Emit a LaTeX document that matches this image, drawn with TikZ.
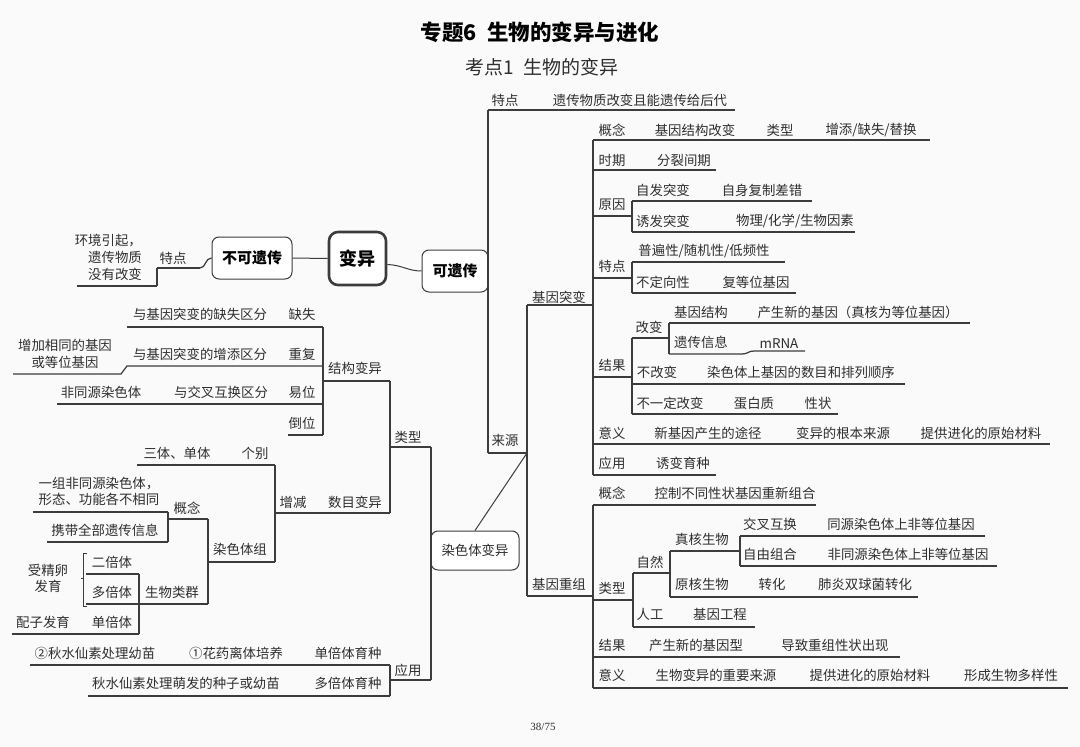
\documentclass[tikz,border=0pt]{standalone}
\usepackage{fontspec}
\setmainfont{Noto Sans CJK SC}
\newfontfamily\pnfont{Liberation Serif}
\definecolor{bgc}{HTML}{FAFAFA}
\definecolor{lc}{HTML}{3C3C3C}
\definecolor{tc}{HTML}{2E2E2E}
\newcommand\myhl[4]{\coordinate (#1-l) at (#2,#4); \coordinate (#1-r) at (#3,#4); \draw[ln] (#1-l) -- (#1-r);}
\newcommand\mytx[4]{\node[t] (#1) at (#2,#3) {#4};}
\begin{document}
\begin{tikzpicture}[x=1pt,y=-1pt,
 t/.style={inner sep=0pt,text=tc,font=\fontsize{13.4}{16.5}\selectfont},
 ln/.style={draw=lc,line width=1.25pt},
 thinln/.style={draw=lc,line width=1pt},
 rbox/.style={draw=lc,rounded corners=7pt,line width=1pt,fill=white,inner sep=0pt,text=black}]
\fill[bgc] (0,0) rectangle (1080,747);
\useasboundingbox (0,0) rectangle (1080,747);

% titles
\node[inner sep=0pt,font=\bfseries\fontsize{21.5}{24}\selectfont] (title) at (540,32) {专题6\hspace{10pt}生物的变异与进化};
\node[inner sep=0pt,text=tc,font=\fontsize{19}{22}\selectfont] (sub) at (542,67) {考点1\hspace{10pt}生物的变异};

% boxes
\node[rbox,line width=2.6pt,rounded corners=9pt,minimum width=57pt,minimum height=53pt,font=\bfseries\fontsize{18}{20}\selectfont] (by) at (357.5,258.5) {变异};
\node[rbox,minimum width=80pt,minimum height=42pt,font=\bfseries\fontsize{15}{18}\selectfont] (bk) at (252,258) {不可遗传};
\node[rbox,minimum width=66pt,minimum height=42pt,font=\bfseries\fontsize{15}{18}\selectfont] (ky) at (455,271) {可遗传};
\node[rbox,minimum width=88pt,minimum height=39pt,font=\fontsize{13.4}{16}\selectfont,text=tc] (rs) at (475,550.5) {染色体变异};

\draw[thinln] (by.west) -- (bk.east);
\draw[thinln] ([yshift=-6pt]by.east) .. controls (402,265) and (408,271) .. (ky.west);

% non-heritable
\myhl{td}{157}{200}{268}
\draw[ln] (bk.west) .. controls (205,258) and (206,268) .. (td-r);
\myhl{hj}{77}{157}{286}
\draw[ln] (td-l) -- (hj-r);
\mytx{b1}{173}{258}{特点}
\node[t,align=right,anchor=east,font=\fontsize{13.4}{17}\selectfont] (b0) at (142,257) {环境引起，\\遗传物质\\没有改变};

% heritable trunk
\myhl{tdR}{488}{735}{110}
\myhl{ly}{488}{527}{453}
\draw[ln] (tdR-l) -- (ly-l);
\myhl{jt}{527}{593}{305}
\myhl{jc}{527}{593}{596}
\draw[ln] (jt-l) -- (jc-l);
\draw[thinln] (rs.north) -- (ly-r);

% gene mutation
\myhl{gn}{593}{930}{140}
\myhl{sq}{593}{716}{170}
\myhl{yy1}{593}{632}{216}
\myhl{zf}{632}{812}{201}
\myhl{yf}{632}{855}{232}
\draw[ln] (zf-l) -- (yf-l);
\myhl{tdb}{593}{632}{278}
\myhl{pb}{632}{785}{262}
\myhl{bd}{632}{796}{293}
\draw[ln] (pb-l) -- (bd-l);
\myhl{gb}{632}{669}{338}
\myhl{jj}{669}{970}{323}
\coordinate (yc-l) at (669,354); \coordinate (yc-m) at (742,354); \coordinate (yc-n) at (754,351); \coordinate (yc-r) at (805,351);
\draw[ln] (yc-l) -- (yc-m) .. controls (748,354) and (748,351) .. (yc-n) -- (yc-r);
\draw[ln] (jj-l) -- (yc-l);
\myhl{jg}{593}{632}{377}
\myhl{bgb}{632}{905}{384}
\myhl{byd}{632}{838}{414}
\draw[ln] (gb-l) -- (byd-l);
\myhl{yi}{593}{1050}{444}
\myhl{yyo}{593}{716}{475}
\draw[ln] (gn-l) -- (yyo-l);

\mytx{a1}{505}{100}{特点}
\mytx{a2}{640}{100}{遗传物质改变且能遗传给后代}
\mytx{a3}{612}{130}{概念}
\mytx{a4}{695}{130}{基因结构改变}
\mytx{a5}{780}{130}{类型}
\mytx{a6}{871}{130}{增添/缺失/替换}
\mytx{a7}{612}{160}{时期}
\mytx{a8}{684}{160}{分裂间期}
\mytx{a9}{612}{205}{原因}
\mytx{a10}{663}{190}{自发突变}
\mytx{a11}{762}{190}{自身复制差错}
\mytx{a12}{663}{221}{诱发突变}
\mytx{a13}{795}{221}{物理/化学/生物因素}
\mytx{a14}{612}{266}{特点}
\mytx{a15}{704}{251}{普遍性/随机性/低频性}
\mytx{a16}{663}{282}{不定向性}
\mytx{a17}{756}{282}{复等位基因}
\mytx{a18}{559}{297}{基因突变}
\mytx{a19}{701}{312}{基因结构}
\mytx{a20}{858}{312}{产生新的基因（真核为等位基因）}
\mytx{a21}{649}{327}{改变}
\mytx{a22}{701}{342}{遗传信息}
\mytx{a23}{779}{344}{mRNA}
\mytx{a24}{612}{365}{结果}
\mytx{a25}{657}{372}{不改变}
\mytx{a26}{801}{372}{染色体上基因的数目和排列顺序}
\mytx{a27}{670}{403}{不一定改变}
\mytx{a28}{754}{403}{蛋白质}
\mytx{a29}{818}{403}{性状}
\mytx{a30}{612}{433}{意义}
\mytx{a31}{708}{433}{新基因产生的途径}
\mytx{a32}{843}{433}{变异的根本来源}
\mytx{a33}{981}{433}{提供进化的原始材料}
\mytx{a34}{612}{463}{应用}
\mytx{a35}{683}{463}{诱变育种}
\mytx{a36}{505}{440}{来源}

% gene recombination
\myhl{gn2}{593}{816}{505}
\myhl{lx}{593}{633}{600}
\myhl{zr}{633}{670}{573}
\myhl{zh}{670}{740}{551}
\myhl{jc2}{740}{985}{536}
\myhl{zy}{740}{997}{566}
\draw[ln] (jc2-l) -- (zy-l);
\myhl{yh}{670}{918}{597}
\draw[ln] (zh-l) -- (yh-l);
\myhl{rg}{633}{755}{627}
\draw[ln] (zr-l) -- (rg-l);
\myhl{jg2}{593}{900}{657}
\myhl{yi2}{593}{1068}{688}
\draw[ln] (gn2-l) -- (yi2-l);

\mytx{c1}{612}{493}{概念}
\mytx{c2}{735}{493}{控制不同性状基因重新组合}
\mytx{c3}{770}{524}{交叉互换}
\mytx{c4}{901}{524}{同源染色体上非等位基因}
\mytx{c5}{702}{539}{真核生物}
\mytx{c6}{770}{554}{自由组合}
\mytx{c7}{908}{554}{非同源染色体上非等位基因}
\mytx{c8}{650}{562}{自然}
\mytx{c9}{702}{584}{原核生物}
\mytx{c10}{772}{584}{转化}
\mytx{c11}{865}{584}{肺炎双球菌转化}
\mytx{c12}{612}{588}{类型}
\mytx{c13}{559}{584}{基因重组}
\mytx{c14}{650}{614}{人工}
\mytx{c15}{720}{614}{基因工程}
\mytx{c16}{612}{645}{结果}
\mytx{c17}{696}{645}{产生新的基因型}
\mytx{c18}{835}{645}{导致重组性状出现}
\mytx{c19}{612}{675}{意义}
\mytx{c20}{716}{675}{生物变异的重要来源}
\mytx{c21}{870}{675}{提供进化的原始材料}
\mytx{c22}{1011}{675}{形成生物多样性}

% chromosome variation
\myhl{lx2}{390}{431}{447}
\myhl{yy2}{390}{431}{680}
\draw[ln] (lx2-r) -- (yy2-r);
\myhl{jgb}{323}{390}{381}
\myhl{smb}{275}{390}{513}
\draw[ln] (jgb-r) -- (smb-r);
\myhl{qs}{127}{323}{327}
\coordinate (cf-r) at (323,366); \coordinate (cf-m) at (127,366); \coordinate (cf-n) at (121,374); \coordinate (cf-l) at (13,374);
\draw[ln] (cf-r) -- (cf-m) -- (cf-n) -- (cf-l);
\myhl{yw}{57}{323}{404}
\myhl{dw}{288}{323}{435}
\draw[ln] (qs-r) -- (dw-r);
\myhl{gb2}{137}{275}{465}
\myhl{rsz}{208}{275}{562}
\draw[ln] (gb2-r) -- (rsz-r);
\myhl{gn3}{168}{208}{519}
\myhl{yz}{33}{168}{512}
\myhl{xd}{47}{168}{542}
\draw[ln] (yz-r) -- (xd-r);
\myhl{sw}{86}{208}{604}
\draw[ln] (gn3-r) -- (sw-r);
\myhl{eb}{86}{139}{574}
\myhl{db}{12}{139}{634}
\draw[ln] (eb-r) -- (db-r);
\coordinate (br1) at (87,553); \coordinate (br2) at (83,553); \coordinate (br3) at (83,606); \coordinate (br4) at (87,606);
\draw[thinln] (br1) -- (br2) -- (br3) -- (br4);
\coordinate (br5) at (83,578); \coordinate (br6) at (81,578);
\draw[thinln] (br5) -- (br6);
\myhl{dby}{30}{390}{665}
\myhl{dbz}{88}{390}{696}
\draw[ln] (dby-r) -- (dbz-r);

\node[t,align=center] (b4) at (65,354) {增加相同的基因\\或等位基因};
\mytx{b2}{200}{314}{与基因突变的缺失区分}
\mytx{b3}{302}{314}{缺失}
\mytx{b5}{200}{354}{与基因突变的增添区分}
\mytx{b6}{302}{354}{重复}
\mytx{b7}{355}{368}{结构变异}
\mytx{b8}{101}{392}{非同源染色体}
\mytx{b9}{221}{392}{与交叉互换区分}
\mytx{b10}{302}{392}{易位}
\mytx{b11}{302}{423}{倒位}
\mytx{b12}{408}{437}{类型}
\mytx{b13}{177}{453}{三体、单体}
\mytx{b14}{255}{453}{个别}
\node[t,align=left] (b15) at (99,491.5) {一组非同源染色体，\\形态、功能各不相同};
\mytx{b16}{187}{508}{概念}
\mytx{b17}{293}{502}{增减}
\mytx{b18}{355}{502}{数目变异}
\mytx{b19}{105}{530}{携带全部遗传信息}
\mytx{b20}{240}{549}{染色体组}
\mytx{b21}{112}{562}{二倍体}
\node[t,align=center] (b22) at (48,578.5) {受精卵\\发育};
\mytx{b23}{112}{592}{多倍体}
\mytx{b24}{172}{592}{生物类群}
\mytx{b25}{43}{622}{配子发育}
\mytx{b26}{112}{622}{单倍体}
\mytx{b27}{95}{653}{②秋水仙素处理幼苗}
\mytx{b28}{236}{653}{①花药离体培养}
\mytx{b29}{348}{653}{单倍体育种}
\mytx{b30}{186}{683}{秋水仙素处理萌发的种子或幼苗}
\mytx{b31}{348}{683}{多倍体育种}
\mytx{b32}{408}{670}{应用}

\node[inner sep=0pt,text=tc,font=\pnfont\fontsize{11}{13}\selectfont] (pg) at (543,727) {38/75};
\end{tikzpicture}
\end{document}
